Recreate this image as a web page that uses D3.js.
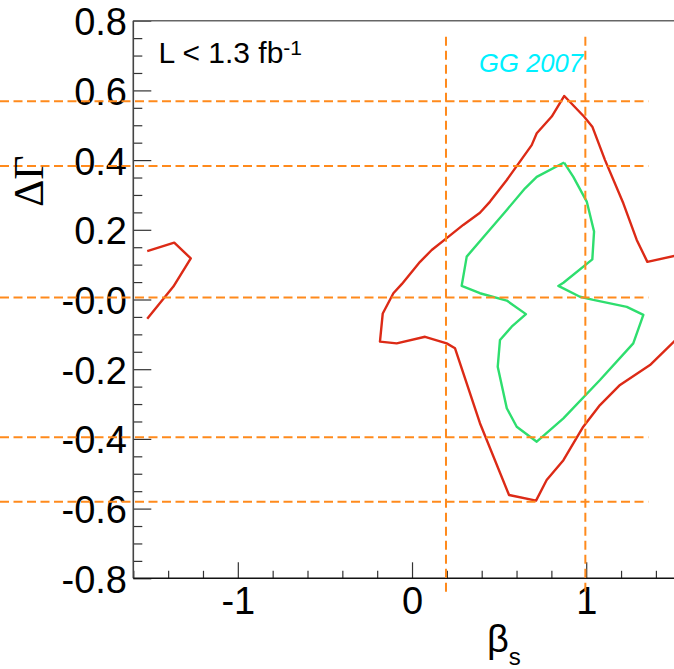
<!DOCTYPE html>
<html>
<head>
<meta charset="utf-8">
<script src="https://cdn.jsdelivr.net/npm/d3@7"></script>
<style>
  html, body { margin: 0; padding: 0; background: #fff; }
  svg { display: block; }
</style>
</head>
<body>
<svg id="chart" width="674" height="669"></svg>
<script>
// Axis ranges and tick labels
const betaDomain = [-1.6, 1.6];
const deltaGammaDomain = [-0.8, 0.8];
const betaMajorTicks = [-1, 0, 1];
const betaTickLabels = ["-1", "0", "1"];
const deltaGammaMajorTicks = [0.8, 0.6, 0.4, 0.2, 0.0, -0.2, -0.4, -0.6, -0.8];
const deltaGammaTickLabels = ["0.8", "0.6", "0.4", "0.2", "-0.0", "-0.2", "-0.4", "-0.6", "-0.8"];

// Reference lines (dashed)
const betaRefLines = [0.195, 0.995];
const deltaGammaRefLines = [0.569, 0.383, 0.006, -0.395, -0.580];

// 95% CL contour: main lobe (open where it leaves the frame) and small lobe at the left edge
const contour95Beta = [1.58, 1.351, 1.290, 1.213, 1.108, 1.035, 0.987, 0.874, 0.802, 0.716, 0.687, 0.544, 0.448, 0.390, 0.294, 0.199, 0.113, 0.046, -0.059, -0.107, -0.168, -0.184, -0.088, 0.075, 0.199, 0.247, 0.390, 0.557, 0.712, 0.773, 0.869, 0.983, 1.079, 1.194, 1.366, 1.504, 1.58];
const contour95DeltaGamma = [0.133, 0.108, 0.171, 0.276, 0.400, 0.496, 0.525, 0.584, 0.525, 0.477, 0.443, 0.343, 0.281, 0.249, 0.214, 0.176, 0.142, 0.108, 0.044, 0.018, -0.040, -0.121, -0.126, -0.107, -0.126, -0.140, -0.355, -0.561, -0.577, -0.518, -0.461, -0.365, -0.303, -0.245, -0.188, -0.121, -0.075];
const contour95LeftBeta = [-1.520, -1.365, -1.270, -1.370, -1.520];
const contour95LeftDeltaGamma = [0.139, 0.163, 0.118, 0.037, -0.055];

// 68% CL contour (closed)
const contour68Beta = [0.873, 0.716, 0.649, 0.544, 0.429, 0.314, 0.285, 0.390, 0.544, 0.654, 0.572, 0.505, 0.492, 0.544, 0.601, 0.716, 0.869, 1.079, 1.270, 1.328, 1.233, 1.041, 0.964, 0.840, 0.869, 1.035, 1.045, 1.003, 0.926, 0.873];
const contour68DeltaGamma = [0.393, 0.352, 0.319, 0.257, 0.190, 0.123, 0.039, 0.018, -0.003, -0.042, -0.078, -0.116, -0.193, -0.312, -0.365, -0.408, -0.341, -0.231, -0.126, -0.044, -0.021, -0.001, 0.008, 0.039, 0.048, 0.115, 0.195, 0.281, 0.352, 0.393];

const svg = d3.select("#chart");
const plot = { left: 133.3, top: 20.7, bottom: 578.3, pxPerUnit: 174.2 };

const x = d3.scaleLinear()
  .domain(betaDomain)
  .range([plot.left, plot.left + (betaDomain[1] - betaDomain[0]) * plot.pxPerUnit]);
const y = d3.scaleLinear()
  .domain(deltaGammaDomain)
  .range([plot.bottom, plot.top]);

const font = "'Liberation Sans', Arial, Helvetica, sans-serif";

// Minor ticks
const betaMinor = d3.range(-1.6, 1.61, 0.2).map(v => +v.toFixed(2)).filter(v => !betaMajorTicks.includes(v));
const dgMinor = d3.range(-0.8, 0.801, 0.05).map(v => +v.toFixed(2)).filter(v => Math.abs((v * 5) - Math.round(v * 5)) > 1e-6);

const xMinorAxis = d3.axisBottom(x).tickValues(betaMinor).tickSize(-7.5).tickFormat("");
const xMajorAxis = d3.axisBottom(x).tickValues(betaMajorTicks).tickSize(-16).tickPadding(8.7)
  .tickFormat((d, i) => betaTickLabels[i]);
const yMinorAxis = d3.axisLeft(y).tickValues(dgMinor).tickSize(-9).tickFormat("");
const yMajorAxis = d3.axisLeft(y).tickValues(deltaGammaMajorTicks).tickSize(-18).tickPadding(6.3)
  .tickFormat((d, i) => deltaGammaTickLabels[i]);

function styleAxis(g) {
  g.select(".domain").remove();
  g.selectAll(".tick line").attr("stroke", "#333").attr("stroke-width", 1.2);
  g.selectAll(".tick text")
    .attr("font-family", font).attr("font-size", 38).attr("fill", "#000");
}

svg.append("g").attr("transform", `translate(0,${plot.bottom})`).call(xMinorAxis).call(styleAxis);
svg.append("g").attr("transform", `translate(0,${plot.bottom})`).call(xMajorAxis).call(styleAxis);
svg.append("g").attr("transform", `translate(${plot.left},0)`).call(yMinorAxis).call(styleAxis);
const yg = svg.append("g").attr("transform", `translate(${plot.left},0)`).call(yMajorAxis).call(styleAxis);
yg.selectAll(".tick text").attr("dy", "0.37em");

// Frame
svg.append("line").attr("x1", plot.left).attr("x2", 674).attr("y1", plot.top).attr("y2", plot.top)
  .attr("stroke", "#666").attr("stroke-width", 1.6);
svg.append("line").attr("x1", plot.left).attr("x2", plot.left).attr("y1", plot.top).attr("y2", plot.bottom)
  .attr("stroke", "#444").attr("stroke-width", 1.6);
svg.append("line").attr("x1", plot.left).attr("x2", 674).attr("y1", plot.bottom).attr("y2", plot.bottom)
  .attr("stroke", "#111").attr("stroke-width", 1.6);

// Contours
const line = d3.line().x(d => x(d[0])).y(d => y(d[1]));
const zip = (a, b) => a.map((v, i) => [v, b[i]]);

svg.append("path").datum(zip(contour95Beta, contour95DeltaGamma)).attr("d", line)
  .attr("fill", "none").attr("stroke", "#dc2a16").attr("stroke-width", 2.4).attr("stroke-linejoin", "round");
svg.append("path").datum(zip(contour95LeftBeta, contour95LeftDeltaGamma)).attr("d", line)
  .attr("fill", "none").attr("stroke", "#dc2a16").attr("stroke-width", 2.4).attr("stroke-linejoin", "round");
svg.append("path").datum(zip(contour68Beta, contour68DeltaGamma)).attr("d", line)
  .attr("fill", "none").attr("stroke", "#2ede6e").attr("stroke-width", 2.4).attr("stroke-linejoin", "round");

// Labels inside the frame
const lum = svg.append("text").attr("x", 158.5).attr("y", 63)
  .attr("font-family", font).attr("font-size", 30).attr("fill", "#000");
lum.append("tspan").text("L < 1.3 fb");
lum.append("tspan").attr("font-size", 21).attr("dy", -8.5).text("-1");

svg.append("text").attr("x", 479).attr("y", 71.5)
  .attr("font-family", font).attr("font-size", 25.6).attr("font-style", "italic")
  .attr("fill", "#00f0ff").text("GG 2007");

// Dashed reference lines
const dashColor = "#ff8a1c";
svg.append("g").selectAll("line").data(deltaGammaRefLines).join("line")
  .attr("x1", 0).attr("x2", 648.3)
  .attr("y1", d => y(d)).attr("y2", d => y(d))
  .attr("stroke", dashColor).attr("stroke-width", 2).attr("stroke-dasharray", "9,4.5");
svg.append("g").selectAll("line").data(betaRefLines).join("line")
  .attr("x1", d => x(d)).attr("x2", d => x(d))
  .attr("y1", 36.7).attr("y2", 591.7)
  .attr("stroke", dashColor).attr("stroke-width", 2).attr("stroke-dasharray", "9,5");

// Axis titles
svg.append("text")
  .attr("transform", "translate(43,181) rotate(-90)")
  .attr("text-anchor", "middle")
  .attr("font-family", "'Liberation Serif', 'Times New Roman', serif")
  .attr("font-size", 42).attr("fill", "#000").text("ΔΓ");

const bt = svg.append("text").attr("x", 487).attr("y", 652)
  .attr("font-family", font).attr("font-size", 38).attr("fill", "#000");
bt.append("tspan").text("β");
bt.append("tspan").attr("font-size", 24).attr("dy", 13).text("s");
</script>
</body>
</html>
